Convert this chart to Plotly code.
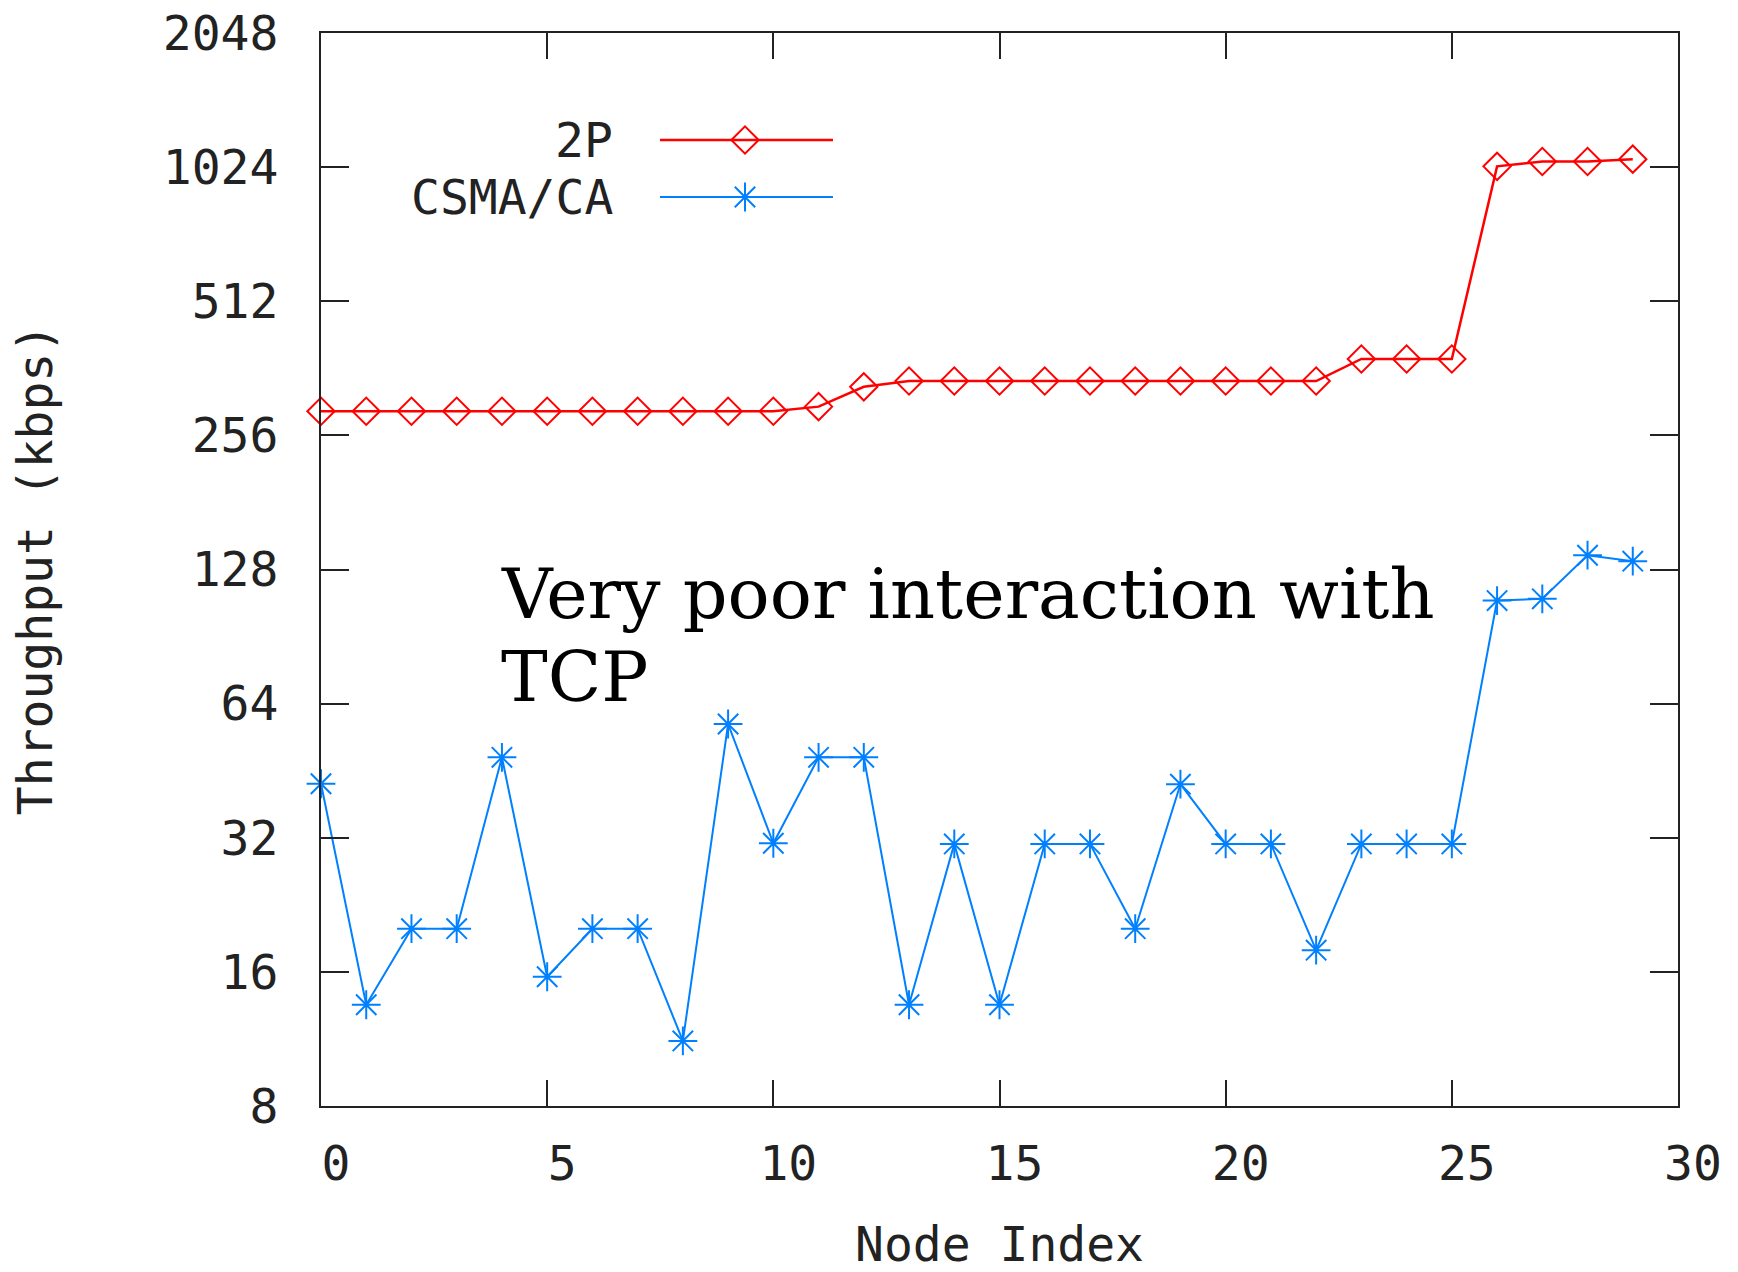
import plotly.graph_objects as go

# ---- data ----
node_index = list(range(30))
tp_2p = [290, 290, 290, 290, 290, 290, 290, 290, 290, 290, 290,
         297, 329,
         339, 339, 339, 339, 339, 339, 339, 339, 339, 339,
         380, 380, 380,
         1028, 1054, 1054, 1067]
tp_csma = [42.3, 13.5, 20, 20, 48.5, 15.6, 20, 20, 11.2, 57.6,
           31.1, 48.5, 48.5, 13.5, 31, 13.5, 31, 31, 20, 42.2,
           31, 31, 17.9, 31, 31, 31, 109, 110, 137.8, 133.6]
y_tickvals = [8, 16, 32, 64, 128, 256, 512, 1024, 2048]
y_ticktext = ["8", "16", "32", "64", "128", "256", "512", "1024", "2048"]
x_tickvals = [0, 5, 10, 15, 20, 25, 30]
series_names = ["2P", "CSMA/CA"]
note_lines = ["Very poor interaction with", "TCP"]

RED = "#ff0000"
BLUE = "#0080ff"
MONO = "DejaVu Sans Mono"
INK = "#222222"

W, H = 1738, 1272
L, R, T, B = 321, 60, 33, 166
PW, PH = W - L - R, H - T - B

fig = go.Figure()

fig.add_trace(go.Scatter(
    x=node_index, y=tp_2p, mode="lines+markers", name=series_names[0],
    line=dict(color=RED, width=2.5),
    marker=dict(symbol="diamond-open", size=21, color=RED, line=dict(width=2, color=RED)),
    cliponaxis=False, showlegend=False,
))
fig.add_trace(go.Scatter(
    x=node_index, y=tp_csma, mode="lines+markers", name=series_names[1],
    line=dict(color=BLUE, width=2),
    marker=dict(symbol="asterisk-open", size=24, color=BLUE, line=dict(width=2, color=BLUE)),
    cliponaxis=False, showlegend=False,
))

# ---- custom legend (gnuplot style: text left, sample right) on pixel-overlay axes ----
leg_rows = [140, 197]
leg_x0, leg_xm, leg_x1 = 660, 745, 833
leg_text_right = 615
styles = [
    dict(color=RED, width=2.5, symbol="diamond-open", size=21),
    dict(color=BLUE, width=2, symbol="asterisk-open", size=24),
]
for name, yrow, st in zip(series_names, leg_rows, styles):
    fig.add_trace(go.Scatter(
        x=[leg_x0, leg_x1], y=[yrow, yrow], mode="lines",
        line=dict(color=st["color"], width=st["width"]),
        xaxis="x2", yaxis="y2", showlegend=False, hoverinfo="skip",
    ))
    fig.add_trace(go.Scatter(
        x=[leg_xm], y=[yrow], mode="markers",
        marker=dict(symbol=st["symbol"], size=st["size"], color=st["color"],
                    line=dict(width=2, color=st["color"])),
        xaxis="x2", yaxis="y2", showlegend=False, hoverinfo="skip",
    ))
    fig.add_annotation(
        x=leg_text_right, y=yrow, xref="x2", yref="y2", text=name,
        showarrow=False, xanchor="right", yanchor="middle",
        font=dict(family=MONO, size=48, color=INK),
    )

# annotation text, two lines placed individually (gnuplot line spacing)
for line_txt, top_px in zip(note_lines, [551, 634]):
    fig.add_annotation(
        x=499, y=top_px, xref="x2", yref="y2",
        text=line_txt, showarrow=False, xanchor="left", yanchor="top", align="left",
        font=dict(family="DejaVu Serif", size=70, color="#000000"),
    )

axis_common = dict(
    showline=True, linecolor=INK, linewidth=2, mirror="ticks",
    ticks="inside", tickwidth=2, tickcolor=INK, showgrid=False, zeroline=False,
    tickfont=dict(family=MONO, size=48, color=INK), automargin=False,
)

fig.update_layout(
    width=W, height=H,
    margin=dict(l=L, r=R, t=T, b=B, pad=0),
    paper_bgcolor="white", plot_bgcolor="white",
    showlegend=False,
    xaxis=dict(
        range=[0, 30], tickvals=x_tickvals, ticklen=26,
        ticklabelshift=15, ticklabelstandoff=14,
        title=dict(text="Node Index", font=dict(family=MONO, size=48, color=INK), standoff=40),
        **axis_common,
    ),
    yaxis=dict(
        type="log", range=[0.90309, 3.31133], tickvals=y_tickvals, ticktext=y_ticktext,
        ticklen=28, ticklabelstandoff=31,
        title=dict(text="Throughput (kbps)", font=dict(family=MONO, size=48, color=INK), standoff=95),
        **axis_common,
    ),
    xaxis2=dict(domain=[0, 1], range=[L, W - R], visible=False, overlaying="x", anchor="y2"),
    yaxis2=dict(domain=[0, 1], range=[H - B, T], visible=False, overlaying="y", anchor="x2"),
)

fig.write_html("out.html")
